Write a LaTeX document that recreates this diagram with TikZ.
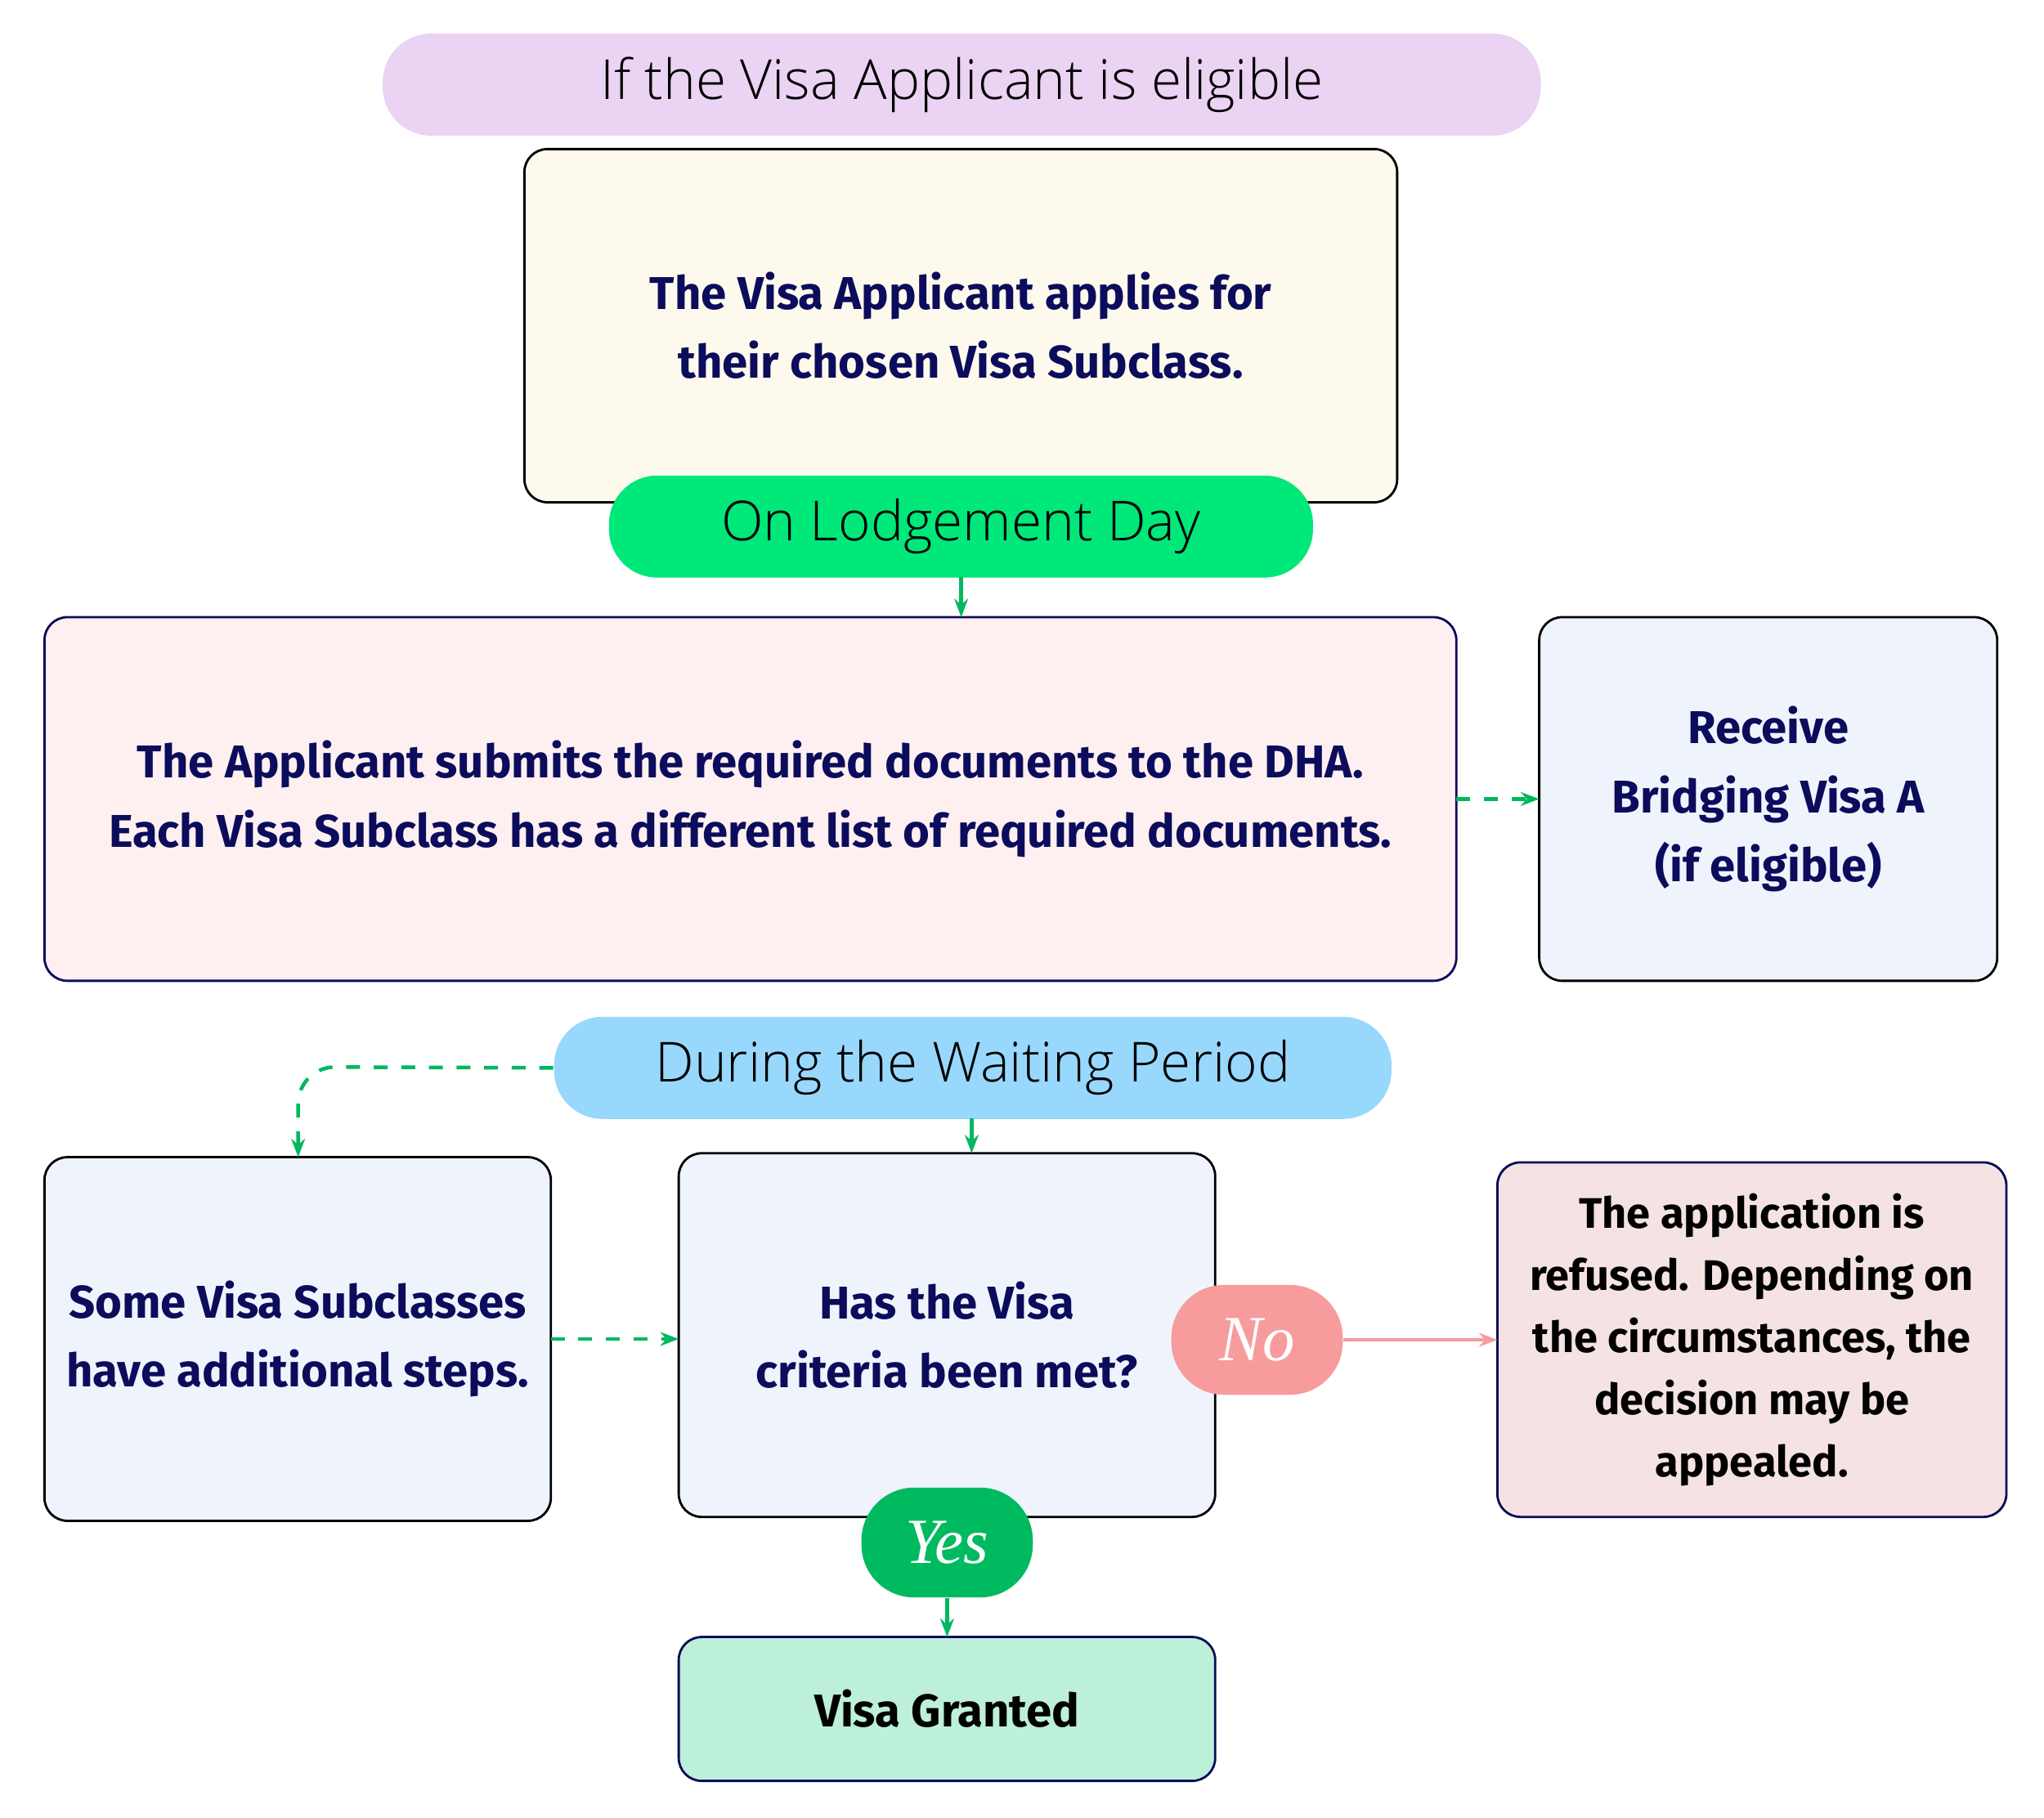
\documentclass[tikz,border=0pt]{standalone}
\usepackage{fontspec}
\setmainfont{Fira Sans}
\newfontfamily\hand{Open Sans}[UprightFont=* Light]
\newfontfamily\scr{Liberation Serif}
\usetikzlibrary{arrows.meta}
\definecolor{navy}{HTML}{0C0C5C}
\definecolor{grn}{HTML}{00B85E}
\definecolor{cT}{HTML}{EBD3F3}
\definecolor{cB1}{HTML}{FDF9EC}
\definecolor{cP1}{HTML}{00E87A}
\definecolor{cB2}{HTML}{FEF0F0}
\definecolor{cBl}{HTML}{EFF4FC}
\definecolor{cP2}{HTML}{99D8FD}
\definecolor{cB6}{HTML}{F5E3E4}
\definecolor{cNo}{HTML}{F79B9C}
\definecolor{cYes}{HTML}{00BA5F}
\definecolor{cB7}{HTML}{BDF0D8}
\begin{document}
\begin{tikzpicture}[x=0.01cm,y=-0.01cm,
 box/.style={draw,rounded corners=5pt,line width=0.5pt,inner sep=0pt,outer sep=0pt,align=center,text=navy,font=\fontsize{10}{15}\selectfont\bfseries,anchor=north west},
 pill/.style={rounded corners=10.5pt,inner sep=0pt,align=center,font=\hand\fontsize{12}{14}\selectfont,anchor=north west},
 arr/.style={-{Stealth[length=4pt]},line width=0.8pt,grn},
 darr/.style={arr,dashed}]
\useasboundingbox (0,0) rectangle (1563,1390);
\node[pill,fill=cT,minimum width=8.85cm,minimum height=0.78cm] (t) at (292,25) {If the Visa Applicant is eligible};
\node[box,draw=black,fill=cB1,minimum width=6.67cm,minimum height=2.7cm] (b1) at (401,114) {The Visa Applicant applies for\\ their chosen Visa Subclass.};
\node[pill,fill=cP1,minimum width=5.38cm,minimum height=0.78cm] (p1) at (465,363) {On Lodgement Day};
\node[box,draw=navy,fill=cB2,minimum width=10.79cm,minimum height=2.78cm] (b2) at (34,472) {The Applicant submits the required documents to the DHA.\\ Each Visa Subclass has a different list of required documents.};
\node[box,draw=black,fill=cBl,minimum width=3.5cm,minimum height=2.78cm] (b3) at (1177,472) {Receive\\ Bridging Visa A\\ (if eligible)};
\node[pill,fill=cP2,minimum width=6.4cm,minimum height=0.78cm] (p2) at (423,777) {During the Waiting Period};
\node[box,draw=black,fill=cBl,minimum width=3.87cm,minimum height=2.78cm] (b4) at (34,885) {Some Visa Subclasses\\ have additional steps.};
\node[box,draw=black,fill=cBl,minimum width=4.1cm,minimum height=2.78cm] (b5) at (519,882) {Has the Visa\\ criteria been met?};
\node[box,draw=navy,fill=cB6,text=black,minimum width=3.89cm,minimum height=2.71cm,font=\fontsize{9.3}{13.5}\selectfont\bfseries] (b6) at (1145,889) {The application is\\ refused. Depending on\\ the circumstances, the\\ decision may be\\ appealed.};
\node[pill,fill=cNo,text=white,minimum width=1.31cm,minimum height=0.84cm,rounded corners=11.5pt,font=\scr\itshape\fontsize{14}{14}\selectfont] (no) at (895,982) {No};
\node[pill,fill=cYes,text=white,minimum width=1.31cm,minimum height=0.84cm,rounded corners=11.5pt,font=\scr\itshape\fontsize{14}{14}\selectfont] (yes) at (658,1137) {Yes};
\node[box,draw=navy,fill=cB7,text=black,minimum width=4.1cm,minimum height=1.1cm] (b7) at (519,1252) {Visa Granted};
\draw[arr] (735,441) -- (b2.north-|735,0);
\draw[darr] (b2.east) -- (b3.west);
\draw[darr,rounded corners=8pt] (p2.west) -- (228,816) -- (228,885);
\draw[arr] (743,855) -- (743,882);
\draw[darr] (b4.east) -- (b5.west|-b4.east);
\draw[-{Stealth[length=4pt]},line width=0.8pt,cNo] (no.east) -- (b6.west|-no.east);
\draw[arr] (yes.south) -- (b7.north-|yes.south);
\end{tikzpicture}
\end{document}
